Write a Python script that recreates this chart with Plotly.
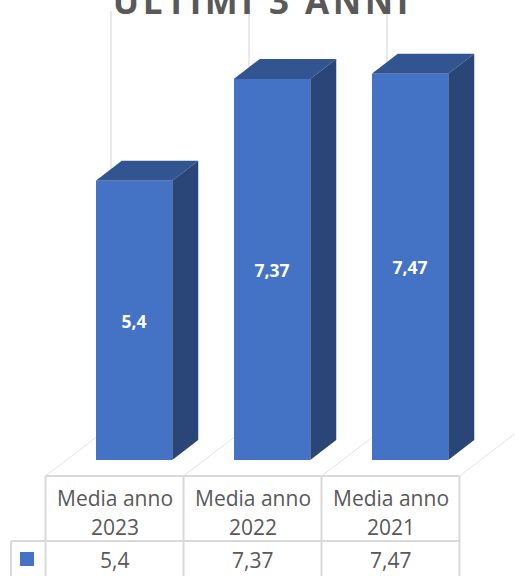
import plotly.graph_objects as go

title_text = "\u200a".join("ULTIMI 3 ANNI")
categories = [["Media anno", "2023"], ["Media anno", "2022"], ["Media anno", "2021"]]
values = [5.4, 7.37, 7.47]
value_labels = ["5,4", "7,37", "7,47"]

FRONT, TOP, SIDE = "#4472C4", "#325591", "#2A4679"
GRID, TEXT = "#D9D9D9", "#595959"
W, H = 515, 576
PX_X, PX_Y = 138.0, 51.7      # pixels per category / per value unit
X0_PX, Y0_PX = 134.0, 460.0   # where first category, value 0 fall
BAR_W = 76.5 / PX_X
DX, DY = 26 / PX_X, 20 / PX_Y
TAB_C = -19.5 / PX_X          # table column offset from bar centre
ROW_HEAD = -16 / PX_Y         # table top
ROW_VAL = -81 / PX_Y          # header / value divider
ROW_BOT = -118 / PX_Y
KEY_L = (11 - X0_PX) / PX_X

fig = go.Figure()
xs = list(range(len(values)))

# depth faces, computed from values
for i, v in zip(xs, values):
    l, r = i - BAR_W / 2, i + BAR_W / 2
    fig.add_trace(go.Scatter(x=[l, l + DX, r + DX, r, l], y=[v, v + DY, v + DY, v, v], fill="toself",
                             fillcolor=TOP, mode="lines", line=dict(width=0), hoverinfo="skip", showlegend=False))
    fig.add_trace(go.Scatter(x=[r, r + DX, r + DX, r, r], y=[0, DY, v + DY, v, 0], fill="toself",
                             fillcolor=SIDE, mode="lines", line=dict(width=0), hoverinfo="skip", showlegend=False))

fig.add_trace(go.Bar(x=xs, y=values, width=BAR_W, marker=dict(color=FRONT, line=dict(width=0)),
                     text=value_labels, textposition="inside", insidetextanchor="middle", textangle=0,
                     constraintext="none",
                     textfont=dict(family="Open Sans", size=17.5, color="white", weight="bold"),
                     showlegend=False))

# legend key in the table
fig.add_trace(go.Scatter(x=[(27 - X0_PX) / PX_X], y=[-99 / PX_Y], mode="markers",
                         marker=dict(symbol="square", size=14, color=FRONT), showlegend=False, hoverinfo="skip"))

shapes = []
def seg(x0, y0, x1, y1, w=2, c=GRID):
    shapes.append(dict(type="line", xref="x", yref="y", x0=x0, y0=y0, x1=x1, y1=y1,
                       line=dict(color=c, width=w), layer="below"))

edges = [i + TAB_C - 0.5 for i in xs] + [xs[-1] + TAB_C + 0.5]
wall_dx, wall_dy = 65.5 / PX_X, 50 / PX_Y
for e in edges:
    seg(e, ROW_HEAD, e, ROW_BOT)
    seg(e, ROW_HEAD, e + wall_dx * 1.0, ROW_HEAD + wall_dy, w=1, c="#E4E4E4")
for e in edges[:-1]:
    seg(e + wall_dx, ROW_HEAD + wall_dy, e + wall_dx, 449 / PX_Y, w=1.5, c="#E2E2E2")
seg(edges[0], ROW_HEAD, edges[-1], ROW_HEAD)
seg(KEY_L, ROW_VAL, edges[-1], ROW_VAL)
seg(KEY_L, ROW_VAL, KEY_L, ROW_BOT)

annots = []
tfont = dict(family="Open Sans", size=21, color=TEXT)
for i, c, lab in zip(xs, categories, value_labels):
    annots.append(dict(x=i + TAB_C, y=-38 / PX_Y, text=c[0], showarrow=False, xanchor="center", yanchor="middle", font=tfont))
    annots.append(dict(x=i + TAB_C, y=-67 / PX_Y, text=c[1], showarrow=False, xanchor="center", yanchor="middle", font=tfont))
    annots.append(dict(x=i + TAB_C, y=-100 / PX_Y, text=lab, showarrow=False, xanchor="center", yanchor="middle", font=tfont))

fig.update_layout(
    width=W, height=H, margin=dict(l=0, r=0, t=0, b=0), autosize=False,
    paper_bgcolor="white", plot_bgcolor="white", showlegend=False,
    title=dict(text=title_text, x=260.5 / W, xanchor="center", y=1 - 2 / H, yanchor="middle",
               font=dict(family="Open Sans", size=35, color=TEXT, weight="bold")),
    xaxis=dict(range=[-X0_PX / PX_X, (W - X0_PX) / PX_X], visible=False, fixedrange=True),
    yaxis=dict(range=[(Y0_PX - H) / PX_Y, Y0_PX / PX_Y], visible=False, fixedrange=True),
    shapes=shapes, annotations=annots, bargap=0,
)
fig.write_html("out.html", config=dict(displayModeBar=False),
               post_script="document.body.style.margin='0';document.documentElement.style.overflow='hidden';")
